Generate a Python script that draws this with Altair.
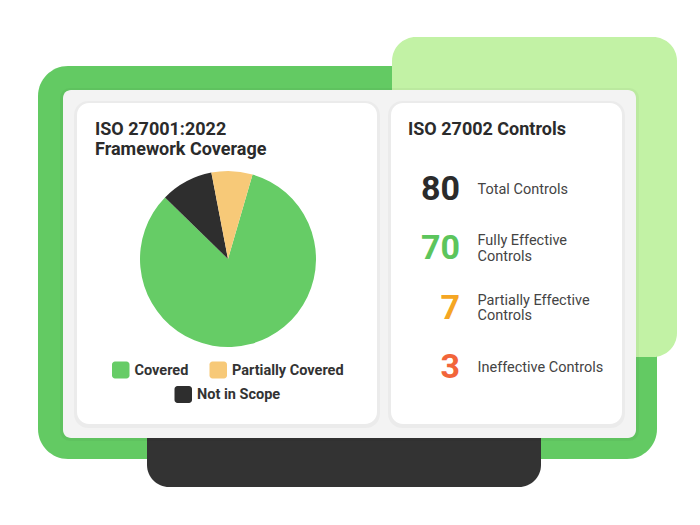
import math
import altair as alt
import pandas as pd

# ---------------- data ----------------
coverage_categories = ["Covered", "Not in Scope", "Partially Covered"]
coverage_values = [77, 9, 7]
coverage_colors = ["#66cc66", "#2e2e2e", "#f7c978"]

legend_order = ["Covered", "Partially Covered", "Not in Scope"]

control_values = [80, 70, 7, 3]
control_labels = ["Total Controls", "Fully Effective\nControls",
                  "Partially Effective\nControls", "Ineffective Controls"]
control_colors = ["#2b2b2b", "#5cc55c", "#f5a623", "#f2653a"]

title_left = ["ISO 27001:2022", "Framework Coverage"]
title_right = "ISO 27002 Controls"

# ---------------- helpers ----------------
O = 8  # page margin offset
FONT = "Roboto"
one = alt.Data(values=[{"a": 1}])


def P(v):
    return v - O


def box(x0, y0, x1, y1, color, r=0, opacity=1.0):
    return alt.Chart(one).mark_rect(
        color=color, cornerRadius=r, opacity=opacity
    ).encode(
        x=alt.value(P(x0)), x2=alt.value(P(x1)),
        y=alt.value(P(y0)), y2=alt.value(P(y1)),
    )


def label(txt, x, y, size, color="#2b2b2b", weight="bold", align="left", baseline="alphabetic"):
    return alt.Chart(one).mark_text(
        font=FONT, fontSize=size, fontWeight=weight, color=color,
        align=align, baseline=baseline,
    ).encode(x=alt.value(P(x)), y=alt.value(P(y)), text=alt.value(txt))


layers = []
# decorative frame
layers.append(box(38, 66, 657, 459, "#63ca63", r=30))
layers.append(box(392, 37, 677, 357, "#c2f2a5", r=24))
layers.append(box(147, 400, 541, 487, "#333333", r=22))
# panel shadow + panel
layers.append(box(60, 88, 639, 441, "#000000", r=10, opacity=0.035))
layers.append(box(63, 90, 636, 438, "#f3f3f3", r=8))
# cards shadows + cards
layers.append(box(74, 101, 380, 428, "#000000", r=14, opacity=0.03))
layers.append(box(388, 101, 625, 428, "#000000", r=14, opacity=0.03))
layers.append(box(77, 103, 377, 424, "#ffffff", r=12))
layers.append(box(391, 103, 622, 424, "#ffffff", r=12))

# titles
layers.append(label(title_left[0], 95, 134.5, 18))
layers.append(label(title_left[1], 95, 155, 18))
layers.append(label(title_right, 408, 135, 18))

# ---------------- pie ----------------
pie_df = pd.DataFrame({
    "category": coverage_categories,
    "value": coverage_values,
    "idx": list(range(len(coverage_categories))),
})
start = math.radians(16.2)
color_scale = alt.Scale(domain=coverage_categories, range=coverage_colors)
pie = alt.Chart(pie_df).mark_arc(outerRadius=88, stroke=None).encode(
    theta=alt.Theta("value:Q", stack=True,
                    scale=alt.Scale(range=[start, start + 2 * math.pi])),
    order=alt.Order("idx:Q"),
    color=alt.Color("category:N", scale=color_scale, legend=None),
    x=alt.value(P(228)),
    y=alt.value(P(259)),
)
layers.append(pie)

# custom legend (swatches and texts from the category list)
legend_pos = {
    "Covered": (112, 361.5),
    "Partially Covered": (209.5, 361.5),
    "Not in Scope": (174.5, 386),
}
legend_df = pd.DataFrame({"category": legend_order})
for cat in legend_order:
    lx, ly = legend_pos[cat]
    base = alt.Chart(legend_df).transform_filter(alt.datum.category == cat)
    layers.append(base.mark_rect(cornerRadius=3).encode(
        x=alt.value(P(lx)), x2=alt.value(P(lx + 17.5)),
        y=alt.value(P(ly)), y2=alt.value(P(ly + 17)),
        color=alt.Color("category:N", scale=color_scale, legend=None),
    ))
    layers.append(base.mark_text(
        font=FONT, fontSize=14.5, fontWeight="bold", color="#333333",
        align="left", baseline="middle",
    ).encode(
        x=alt.value(P(lx + 22.5)), y=alt.value(P(ly + 9)),
        text="category:N",
    ))

# ---------------- controls list ----------------
ctrl_df = pd.DataFrame({
    "label": control_labels,
    "value": control_values,
    "color": control_colors,
})
yscale = alt.Scale(type="point", domain=control_labels, padding=0,
                   range=[P(189.5), P(368)])
nums = alt.Chart(ctrl_df).mark_text(
    font=FONT, fontSize=34, fontWeight="bold", align="right", baseline="middle",
).encode(
    x=alt.value(P(460)),
    y=alt.Y("label:N", scale=yscale, axis=None),
    text="value:Q",
    color=alt.Color("color:N", scale=None),
)
layers.append(nums)

LH = 15.5
for multi, dy in [(False, 0), (True, -LH / 2)]:
    cond = "indexof(datum.label, '\\n') >= 0" if multi else "indexof(datum.label, '\\n') < 0"
    layers.append(alt.Chart(ctrl_df).transform_filter(cond).mark_text(
        font=FONT, fontSize=14.5, fontWeight="normal", color="#444444",
        align="left", baseline="middle", lineBreak="\n", lineHeight=LH, dy=dy,
    ).encode(
        x=alt.value(P(477.5)),
        y=alt.Y("label:N", scale=yscale, axis=None),
        text="label:N",
    ))

chart = alt.layer(*layers).properties(
    width=684, height=509, padding=0,
    autosize=alt.AutoSizeParams(type="none"),
    background="#ffffff",
).resolve_scale(
    color="independent", y="shared"
).configure_view(stroke=None)

chart.save("out.html", embed_options={"renderer": "svg", "actions": False})
